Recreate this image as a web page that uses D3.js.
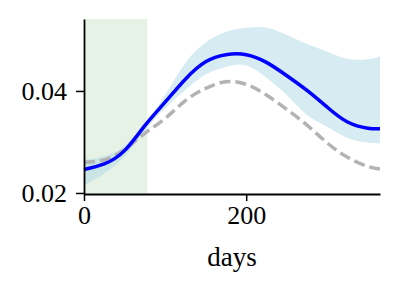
<!DOCTYPE html>
<html>
<head>
<meta charset="utf-8">
<script src="https://cdn.jsdelivr.net/npm/d3@7"></script>
<style>
  body { margin: 0; background: #fff; }
  svg text { font-family: "Liberation Serif", "DejaVu Serif", serif; fill: #000; }
</style>
</head>
<body>
<div id="chart"></div>
<script>
// days sampled along the curves
var days = [0, 25, 50, 75, 100, 125, 150, 175, 200, 225, 250, 275, 300, 325, 350, 365];
// fitted mean (blue)
var fitValues = [0.0246, 0.0257, 0.0283, 0.0332, 0.0378, 0.0423, 0.0457, 0.0471, 0.0471, 0.0456, 0.0430, 0.0401, 0.0368, 0.0339, 0.0327, 0.0326];
// reference curve (grey dashed)
var refValues = [0.0260, 0.0265, 0.0285, 0.0317, 0.0346, 0.0381, 0.0405, 0.0418, 0.0413, 0.0392, 0.0364, 0.0333, 0.0298, 0.0270, 0.0252, 0.0247];
// uncertainty band
var bandLower = [0.0216, 0.0238, 0.0272, 0.0322, 0.0366, 0.0402, 0.0432, 0.0447, 0.0450, 0.0426, 0.0392, 0.0353, 0.0330, 0.0308, 0.0299, 0.0297];
var bandUpper = [0.0265, 0.0272, 0.0292, 0.0336, 0.0392, 0.0455, 0.0495, 0.0516, 0.0524, 0.0524, 0.0510, 0.0492, 0.0477, 0.0463, 0.0462, 0.0468];
// observed window (shaded green)
var windowDays = [0, 78];
var xTicks = [0, 200];
var yTicks = [0.02, 0.04];

var margin = {top: 19, right: 18, bottom: 96, left: 84};
var width = 398 - margin.left - margin.right;
var height = 290 - margin.top - margin.bottom;

var svg = d3.select("#chart").append("svg")
    .attr("width", 398)
    .attr("height", 290)
    .append("g")
    .attr("transform", "translate(" + margin.left + "," + margin.top + ")");

var x = d3.scaleLinear().domain([0, 365]).range([0, width]);
var y = d3.scaleLinear().domain([0.0198, 0.0541]).range([height, 0]);

//shaded window
svg.append("rect")
    .attr("x", x(windowDays[0]))
    .attr("width", x(windowDays[1]) - x(windowDays[0]))
    .attr("y", 0)
    .attr("height", height)
    .attr("fill", "green")
    .attr("fill-opacity", 0.1);

//band
var area = d3.area()
    .x(function(d, i){ return x(days[i]); })
    .y0(function(d, i){ return y(bandLower[i]); })
    .y1(function(d, i){ return y(bandUpper[i]); })
    .curve(d3.curveNatural);

svg.append("path")
    .attr("d", area(days))
    .attr("fill", "lightblue")
    .attr("fill-opacity", 0.5);

var line = d3.line()
    .x(function(d, i){ return x(days[i]); })
    .y(function(d){ return y(d); })
    .curve(d3.curveNatural);

svg.append("path")
    .attr("d", line(refValues))
    .attr("fill", "none")
    .attr("stroke", "#b3b3b3")
    .attr("stroke-width", 3.5)
    .attr("stroke-dasharray", "11,5");

svg.append("path")
    .attr("d", line(fitValues))
    .attr("fill", "none")
    .attr("stroke", "blue")
    .attr("stroke-width", 3.5);

//axes
var xAxis = d3.axisBottom(x).tickValues(xTicks).tickFormat(d3.format("d"))
    .tickSize(7).tickPadding(5).tickSizeOuter(0);
var yAxis = d3.axisLeft(y).tickValues(yTicks).tickFormat(d3.format(".2f"))
    .tickSize(8).tickPadding(9).tickSizeOuter(0);

var gx = svg.append("g")
    .attr("transform", "translate(0," + height + ")")
    .call(xAxis);
var gy = svg.append("g").call(yAxis);

[gx, gy].forEach(function(g){
    g.select(".domain").attr("stroke", "#000").attr("stroke-width", 1.8);
    g.selectAll(".tick line").attr("stroke", "#000").attr("stroke-width", 1.5);
    g.selectAll("text").style("font-size", "26px").attr("fill", "#000");
});

svg.append("text")
    .attr("x", width / 2)
    .attr("y", height + 72)
    .attr("text-anchor", "middle")
    .style("font-size", "27px")
    .text("days");
</script>
</body>
</html>
